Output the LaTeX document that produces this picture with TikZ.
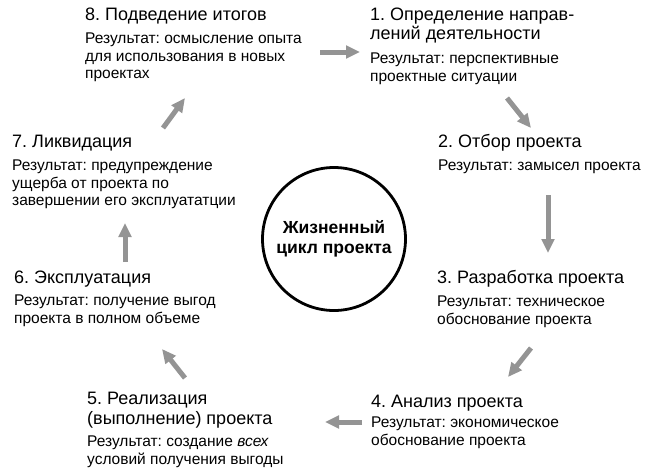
\documentclass[tikz,border=0pt]{standalone}
\usepackage{fontspec}
\setmainfont{Liberation Sans}
\usetikzlibrary{arrows.meta}
\frenchspacing

\begin{document}
\begin{tikzpicture}[
  x=1pt, y=-1pt,
  stage/.style={anchor=north west, yshift=13.65pt, inner sep=0pt, align=left,
    execute at begin node=\strut, font=\fontsize{18}{19.5}\selectfont},
  result/.style={anchor=north west, yshift=12.25pt, inner sep=0pt, align=left,
    execute at begin node=\strut, font=\fontsize{15.5}{17.5}\selectfont},
  hub/.style={circle, draw, line width=2.8pt, minimum size=143pt, inner sep=0pt, align=center,
    font=\bfseries\fontsize{17.5}{20}\selectfont},
  flow/.style={draw=black!42, line width=5pt, -{Triangle[length=14pt,width=12.5pt]}},
]
\useasboundingbox (0,0) rectangle (650,474);

% centre
\node[hub] (hub) at (334,239) {Жизненный\\цикл проекта};

% stages of the cycle (at the baseline of their first line)
\node[stage]  (t1) at (370,21)  {1. Определение направ-\\лений деятельности};
\node[result] (r1) at (370,65)  {Результат: перспективные\\проектные ситуации};
\node[stage]  (t2) at (438,147) {2. Отбор проекта};
\node[result] (r2) at (438,170) {Результат: замысел проекта};
\node[stage]  (t3) at (437,283) {3. Разработка проекта};
\node[result] (r3) at (437,308) {Результат: техническое\\обоснование проекта};
\node[stage]  (t4) at (371,407) {4. Анализ проекта};
\node[result] (r4) at (371,429) {Результат: экономическое\\обоснование проекта};
\node[stage]  (t5) at (87,406)  {5. Реализация\\(выполнение) проекта};
\node[result] (r5) at (87,448)  {Результат: создание \textit{всех}\\условий получения выгоды};
\node[stage]  (t6) at (14,283)  {6. Эксплуатация};
\node[result] (r6) at (14,307)  {Результат: получение выгод\\проекта в полном объеме};
\node[stage]  (t7) at (12,147)  {7. Ликвидация};
\node[result] (r7) at (12,172)  {Результат: предупреждение\\ущерба от проекта по\\завершении его эксплуататции};
\node[stage]  (t8) at (85,20)   {8. Подведение итогов};
\node[result] (r8) at (85,45)   {Результат: осмысление опыта\\для использования в новых\\проектах};

% arrow ends
\coordinate (p81) at (320,52);  \coordinate (q81) at (360,52);
\coordinate (p12) at (507,98);  \coordinate (q12) at (531,128);
\coordinate (p23) at (548,195); \coordinate (q23) at (548,253);
\coordinate (p34) at (531,348); \coordinate (q34) at (508,377);
\coordinate (p45) at (362,422); \coordinate (q45) at (325,422);
\coordinate (p56) at (185,378); \coordinate (q56) at (162,349);
\coordinate (p67) at (125,262); \coordinate (q67) at (125,223);
\coordinate (p78) at (163,128); \coordinate (q78) at (185,98);

\foreach \s in {81,12,23,34,45,56,67,78}
  \draw[flow] (p\s) -- (q\s);
\end{tikzpicture}
\end{document}
